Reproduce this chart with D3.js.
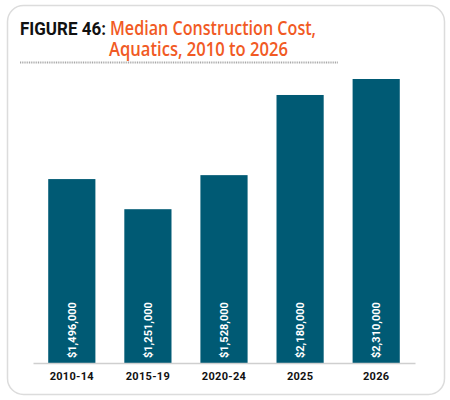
<!DOCTYPE html>
<html>
<head>
<meta charset="utf-8">
<script src="https://cdn.jsdelivr.net/npm/d3@7"></script>
<style>
  body { margin: 0; background: #fff; }
  svg { display: block; }
</style>
</head>
<body>
<svg width="450" height="400"></svg>
<script>
var periods = ["2010-14", "2015-19", "2020-24", "2025", "2026"];
var medianCost = [1496000, 1251000, 1528000, 2180000, 2310000];

var svg = d3.select("svg"),
    width = +svg.attr("width"),
    height = +svg.attr("height");

// card
svg.append("rect")
    .attr("x", 7.5).attr("y", 5.5)
    .attr("width", 437).attr("height", 389)
    .attr("rx", 16).attr("ry", 16)
    .attr("fill", "#fff")
    .attr("stroke", "#dcdcdc")
    .attr("stroke-width", 1.5);

// title
svg.append("text")
    .attr("x", 20).attr("y", 35)
    .attr("textLength", 86)
    .attr("lengthAdjust", "spacingAndGlyphs")
    .style("font-family", "Roboto, sans-serif")
    .style("font-size", "19px")
    .style("font-weight", 700)
    .attr("fill", "#111")
    .text("FIGURE 46:");
svg.append("text")
    .attr("x", 110).attr("y", 35)
    .attr("textLength", 206)
    .attr("lengthAdjust", "spacingAndGlyphs")
    .style("font-family", "'Open Sans', sans-serif")
    .style("font-size", "19px")
    .style("font-weight", 600)
    .attr("fill", "#f15a24")
    .text("Median Construction Cost,");
svg.append("text")
    .attr("x", 109).attr("y", 55.5)
    .attr("textLength", 179)
    .attr("lengthAdjust", "spacingAndGlyphs")
    .style("font-family", "'Open Sans', sans-serif")
    .style("font-size", "19px")
    .style("font-weight", 600)
    .attr("fill", "#f15a24")
    .text("Aquatics, 2010 to 2026");

// dotted rule
svg.append("line")
    .attr("x1", 20).attr("x2", 338)
    .attr("y1", 62.5).attr("y2", 62.5)
    .attr("stroke", "#a8a8a8")
    .attr("stroke-width", 2)
    .attr("stroke-dasharray", "1,0.8");

var x = d3.scaleBand()
    .domain(periods)
    .range([33, 415])
    .paddingInner(0.38)
    .paddingOuter(0.2);

var y = d3.scaleLinear()
    .domain([0, 2310000])
    .range([363, 79]);

var fmt = d3.format("$,");

var g = svg.append("g");

g.selectAll("rect.bar")
    .data(periods)
    .enter().append("rect")
      .attr("class", "bar")
      .attr("x", function(d) { return x(d); })
      .attr("y", function(d, i) { return y(medianCost[i]); })
      .attr("width", x.bandwidth())
      .attr("height", function(d, i) { return y(0) - y(medianCost[i]); })
      .attr("fill", "#005a74");

g.selectAll("text.val")
    .data(periods)
    .enter().append("text")
      .attr("class", "val")
      .attr("transform", function(d) {
        return "translate(" + (x(d) + x.bandwidth() / 2 + 4) + "," + (y(0) - 5) + ") rotate(-90)";
      })
      .attr("fill", "#fff")
      .style("font-family", "Roboto, sans-serif")
      .style("font-size", "11px")
      .style("font-weight", 700)
      .text(function(d, i) { return fmt(medianCost[i]); });

// axis
var axis = svg.append("g")
    .attr("transform", "translate(0," + y(0) + ")")
    .call(d3.axisBottom(x).tickSize(0).tickPadding(9));
axis.select(".domain")
    .attr("stroke", "#cfcfcf")
    .attr("stroke-width", 1.5);
axis.selectAll("text")
    .attr("fill", "#111")
    .style("font-family", "Roboto, sans-serif")
    .style("font-size", "11px")
    .style("font-weight", 700)
    .style("letter-spacing", "0.3px");
</script>
</body>
</html>
